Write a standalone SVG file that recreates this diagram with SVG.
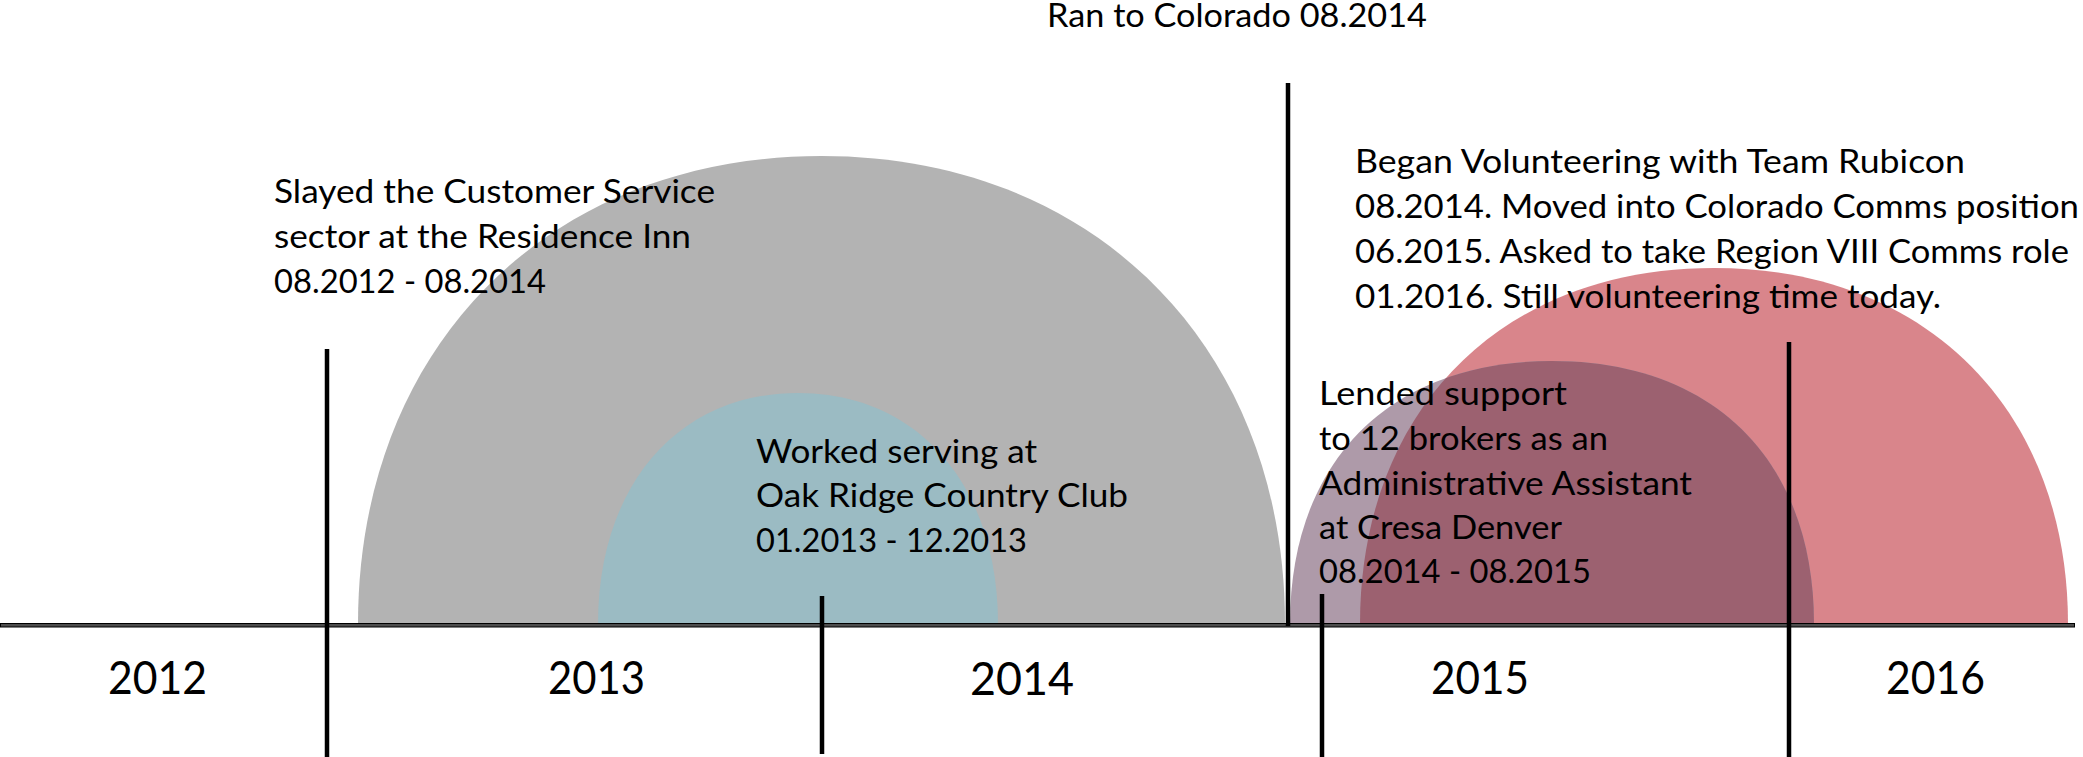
<svg xmlns="http://www.w3.org/2000/svg" width="2083" height="757" viewBox="0 0 2083 757">
<style>
  .t { font-family: Lato, "Open Sans", "Liberation Sans", sans-serif; font-size: 33px; fill: #000; }
  .yr { font-family: Lato, "Open Sans", "Liberation Sans", sans-serif; font-size: 46px; fill: #000; }
  .tick { stroke: #000; stroke-width: 4.5; fill: none; }
</style>
<defs>
  <clipPath id="pinkClip">
    <path d="M1360,624 C1360,410.4 1501.6,268 1714,268 C1926.4,268 2068,410.4 2068,624 Z"/>
  </clipPath>
</defs>
<rect x="0" y="0" width="2083" height="757" fill="#fff"/>

<g id="residence-inn">
  <path d="M358,624 C358,347.9 548,156 821.5,156 C1095,156 1285,347.9 1285,624 Z" fill="#b3b3b3"/>
</g>
<g id="oak-ridge">
  <path d="M598,624 C598,485.4 678,393 798,393 C918,393 998,485.4 998,624 Z" fill="#9bbbc3"/>
</g>
<g id="team-rubicon">
  <path d="M1360,624 C1360,410.4 1501.6,268 1714,268 C1926.4,268 2068,410.4 2068,624 Z" fill="#d9858b"/>
</g>
<g id="cresa-denver">
  <path d="M1290,624 C1290,461 1389.6,361 1552,361 C1714.4,361 1814,461 1814,624 Z" fill="#ae9aa9"/>
  <path d="M1290,624 C1290,461 1389.6,361 1552,361 C1714.4,361 1814,461 1814,624 Z" fill="#9c6170" clip-path="url(#pinkClip)"/>
</g>

<g id="axis">
  <rect x="0.5" y="623.5" width="2074" height="3.5" fill="#4d4d4d" stroke="#000" stroke-width="1"/>
</g>

<g id="connectors">
  <line class="tick" x1="327" y1="349" x2="327" y2="757"/>
  <line class="tick" x1="822" y1="596" x2="822" y2="754"/>
  <line class="tick" x1="1288" y1="83" x2="1288" y2="626"/>
  <line class="tick" x1="1322" y1="594" x2="1322" y2="757"/>
  <line class="tick" x1="1789" y1="342" x2="1789" y2="757"/>
</g>

<g id="label-colorado">
  <text class="t" x="1047" y="27" textLength="380" lengthAdjust="spacingAndGlyphs">Ran to Colorado 08.2014</text>
</g>
<g id="label-residence-inn">
  <text class="t" x="274" y="203" textLength="441" lengthAdjust="spacingAndGlyphs">Slayed the Customer Service</text>
  <text class="t" x="274" y="248" textLength="417" lengthAdjust="spacingAndGlyphs">sector at the Residence Inn</text>
  <text class="t" x="274" y="293" textLength="272" lengthAdjust="spacingAndGlyphs">08.2012 - 08.2014</text>
</g>
<g id="label-oak-ridge">
  <text class="t" x="756" y="463" textLength="281" lengthAdjust="spacingAndGlyphs">Worked serving at</text>
  <text class="t" x="756" y="507" textLength="372" lengthAdjust="spacingAndGlyphs">Oak Ridge Country Club</text>
  <text class="t" x="756" y="552" textLength="271" lengthAdjust="spacingAndGlyphs">01.2013 - 12.2013</text>
</g>
<g id="label-team-rubicon">
  <text class="t" x="1355" y="173" textLength="610" lengthAdjust="spacingAndGlyphs">Began Volunteering with Team Rubicon</text>
  <text class="t" x="1355" y="218" textLength="724" lengthAdjust="spacingAndGlyphs">08.2014. Moved into Colorado Comms position</text>
  <text class="t" x="1355" y="263" textLength="714" lengthAdjust="spacingAndGlyphs">06.2015. Asked to take Region VIII Comms role</text>
  <text class="t" x="1355" y="308" textLength="586" lengthAdjust="spacingAndGlyphs">01.2016. Still volunteering time today.</text>
</g>
<g id="label-cresa-denver">
  <text class="t" x="1319" y="405" textLength="248" lengthAdjust="spacingAndGlyphs">Lended support</text>
  <text class="t" x="1319" y="450" textLength="289" lengthAdjust="spacingAndGlyphs">to 12 brokers as an</text>
  <text class="t" x="1319" y="495" textLength="373" lengthAdjust="spacingAndGlyphs">Administrative Assistant</text>
  <text class="t" x="1319" y="539" textLength="243" lengthAdjust="spacingAndGlyphs">at Cresa Denver</text>
  <text class="t" x="1319" y="583" textLength="272" lengthAdjust="spacingAndGlyphs">08.2014 - 08.2015</text>
</g>
<g id="years">
  <text class="yr" x="108" y="694" textLength="99" lengthAdjust="spacingAndGlyphs">2012</text>
  <text class="yr" x="548" y="694" textLength="97" lengthAdjust="spacingAndGlyphs">2013</text>
  <text class="yr" x="970" y="695" textLength="104" lengthAdjust="spacingAndGlyphs">2014</text>
  <text class="yr" x="1431" y="694" textLength="98" lengthAdjust="spacingAndGlyphs">2015</text>
  <text class="yr" x="1886" y="694" textLength="99" lengthAdjust="spacingAndGlyphs">2016</text>
</g>
</svg>
